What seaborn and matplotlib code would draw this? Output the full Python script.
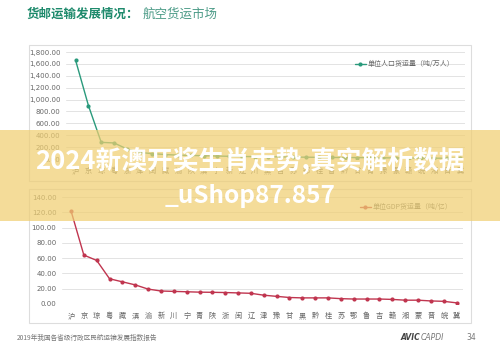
import numpy as np
import pandas as pd
import matplotlib.pyplot as plt
import seaborn as sns
from matplotlib.patches import Rectangle

# ---------------------------------------------------------------------------
# data
# ---------------------------------------------------------------------------
pop_provinces = ['沪', '京', '琼', '粤', '浙', '津', '闽', '藏', '渝', '陕', '滇',
                 '宁', '新', '辽', '川', '黑', '吉', '苏', '鄂', '桂', '鲁', '黔',
                 '甘', '青', '豫', '蒙', '赣', '皖', '湘', '晋', '冀']
pop_values = [1660, 900, 280, 270, 170, 110, 90, 75, 65, 60, 55,
              50, 45, 42, 40, 38, 35, 33, 30, 28, 26, 25,
              24, 22, 20, 18, 17, 15, 14, 12, 10]

gdp_provinces = ['沪', '京', '琼', '粤', '藏', '滇', '渝', '新', '川', '宁', '青',
                 '陕', '浙', '闽', '辽', '津', '豫', '甘', '黑', '黔', '桂', '苏',
                 '鄂', '鲁', '吉', '赣', '湘', '蒙', '晋', '皖', '冀']
gdp_values = [122, 64, 57, 33, 29, 25, 19.5, 17, 16.5, 16, 15.5,
              15.3, 15, 14.5, 14, 11.5, 10, 8.5, 8, 8, 8, 7,
              6.5, 6.5, 6.5, 6, 5, 5, 4, 3.5, 1.5]

pop_ticks = [0, 200, 400, 600, 800, 1000, 1200, 1400, 1600, 1800]
gdp_ticks = [0, 20, 40, 60, 80, 100, 120, 140]

df_pop = pd.DataFrame({'x': np.arange(len(pop_provinces)), 'v': pop_values})
df_gdp = pd.DataFrame({'x': np.arange(len(gdp_provinces)), 'v': gdp_values})

# ---------------------------------------------------------------------------
# styling
# ---------------------------------------------------------------------------
sns.set_style('white')
plt.rcParams['font.family'] = ['Noto Sans CJK SC', 'DejaVu Sans']

W, H = 500, 353
fig = plt.figure(figsize=(W / 100, H / 100), dpi=100)
fig.patch.set_facecolor('white')


def px_box(x0, y0, x1, y1):
    # pixel box (top-left origin) -> figure fraction rect
    return [x0 / W, 1 - y1 / H, (x1 - x0) / W, (y1 - y0) / H]


# panel frames
for (y0, y1) in [(45, 181), (189, 323)]:
    fig.patches.append(Rectangle((29 / W, 1 - y1 / H), (471 - 29) / W, (y1 - y0) / H,
                                 transform=fig.transFigure, fill=False,
                                 edgecolor='#dddddd', linewidth=0.8))

green = '#2a9a7c'
red = '#c0354f'
grid_c = '#e3e3e3'
label_c = '#666666'


def style_axis(ax, ticks, labels, ymax):
    ax.set_ylim(0, ymax)
    ax.set_yticks(ticks)
    ax.set_yticklabels([f'{t:,.2f}' for t in ticks], fontsize=5, color=label_c,
                       family=['DejaVu Sans'])
    ax.set_xticks(range(len(labels)))
    ax.set_xticklabels(labels, fontsize=5.2, color=label_c)
    ax.tick_params(axis='both', length=0, pad=4)
    ax.tick_params(axis='x', pad=6)
    ax.yaxis.grid(True, color=grid_c, linewidth=0.7)
    ax.set_axisbelow(True)
    for s in ax.spines.values():
        s.set_visible(False)
    ax.set_xlabel('')
    ax.set_ylabel('')


# top chart: per-capita freight
ax1 = fig.add_axes(px_box(66, 52, 465, 159))
sns.lineplot(data=df_pop, x='x', y='v', ax=ax1, color=green, marker='o',
             markersize=3, markeredgewidth=0, linewidth=1,
             label='单位人口货运量（吨/万人）')
ax1.set_xlim(-0.75, 30.4)
style_axis(ax1, pop_ticks, pop_provinces, 1800)
ax1.legend(loc='upper right', bbox_to_anchor=(0.99, 0.98), frameon=False,
           fontsize=5, labelcolor=label_c, handlelength=1.6, handletextpad=0.3)

# bottom chart: per-GDP freight
ax2 = fig.add_axes(px_box(62, 197, 463, 304))
sns.lineplot(data=df_gdp, x='x', y='v', ax=ax2, color=red, marker='o',
             markersize=3, markeredgewidth=0, linewidth=1,
             label='单位GDP货运量（吨/亿）')
ax2.set_xlim(-0.7, 30.5)
style_axis(ax2, gdp_ticks, gdp_provinces, 140)
ax2.legend(loc='upper right', bbox_to_anchor=(0.99, 1.0), frameon=False,
           fontsize=5, labelcolor=label_c, handlelength=1.6, handletextpad=0.3)

# title
fig.text(27 / W, 1 - 14 / H, '货邮运输发展情况：', fontsize=9, fontweight='bold',
         color='#1e8a6c', va='center', ha='left')
fig.text(143 / W, 1 - 14 / H, '航空货运市场', fontsize=9,
         color='#4a9a86', va='center', ha='left')

# footer
fig.text(17 / W, 1 - 338 / H, '2019年我国各省级行政区民航运输发展指数报告',
         fontsize=4.8, color='#777777', va='center', ha='left')
fig.text(400 / W, 1 - 338 / H, 'AVIC', fontsize=5.5, fontweight='bold',
         style='italic', color='#444444', va='center', ha='left',
         family=['DejaVu Sans'])
fig.text(421 / W, 1 - 338 / H, 'CAPDI', fontsize=5.5, style='italic',
         color='#777777', va='center', ha='left', family=['DejaVu Sans'])
fig.text(466 / W, 1 - 338 / H, '34', fontsize=5.5, color='#777777',
         va='center', ha='left', family=['DejaVu Sans'])

# watermark band over the middle
fig.patches.append(Rectangle((0, 1 - 221 / H), 1, (221 - 130) / H,
                             transform=fig.transFigure, facecolor='#f0cf72',
                             alpha=0.72, edgecolor='none', zorder=10))
fig.text(0.5, 1 - 160 / H, '2024新澳开奖生肖走势,真实解析数据', fontsize=18.5,
         fontweight='bold', color='white', ha='center', va='center', zorder=11)
fig.text(0.5, 1 - 196 / H, '_uShop87.857', fontsize=17.5, fontweight='bold',
         color='white', ha='center', va='center', zorder=11)

fig.savefig('out.png', dpi=100)
